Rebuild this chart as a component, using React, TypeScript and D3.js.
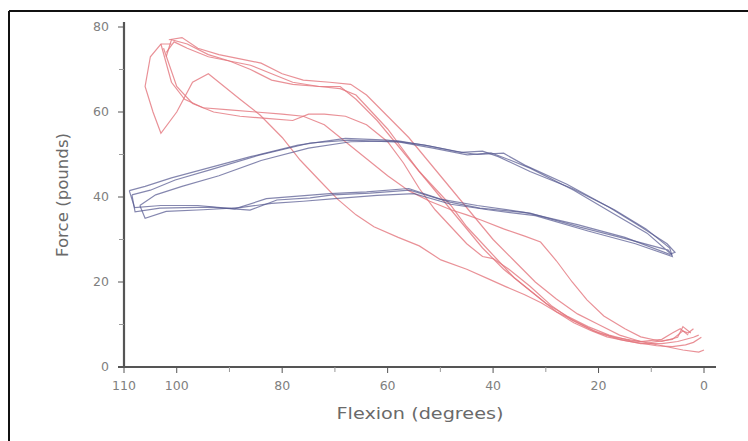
import React from "react";
import * as d3 from "d3";

type P = [number, number];

const xTickLabels = [110, 100, 80, 60, 40, 20, 0];
const xMinorTicks = [90, 70, 50, 30, 10];
const yTickLabels = [0, 20, 40, 60, 80];
const yMinorTicks = [10, 30, 50, 70];

// Blue traces (flexion degrees, force pounds) – closed loops
const blue1: P[] = [
  [108.5, 40.5], [105, 41.6], [100.3, 44], [93.7, 46.4], [84.2, 49.9], [74.7, 52.7], [67.1, 53.4], [57.7, 52.9],
  [51.4, 51.5], [44.9, 49.9], [40.4, 50.4], [36.8, 48.7], [33, 46.8], [24.7, 41.6], [17.3, 36.2], [10.8, 31.5], [6.1, 26.4],
  [6.8, 27.5], [14, 29.9], [23.5, 32.9], [33, 36.2], [42.5, 37.4], [48.2, 38.8], [55.8, 41.6], [63.3, 40.9], [70.4, 40.5],
  [74.7, 39.8], [81, 39.3], [86.1, 36.9], [93.7, 37.6], [103.2, 37.4], [107.9, 36.5], [108.5, 40.5],
];
const blue2: P[] = [
  [107, 38], [104, 40.5], [99, 42.5], [92, 45], [84, 48.6], [75, 51.5], [67, 53], [58, 53.2], [52, 52], [46, 50.5],
  [42, 50.8], [39, 49.5], [33, 46], [25, 42], [17, 37], [11, 32.5], [6.5, 28],
  [6, 26], [13, 29], [22, 32], [32, 35.6], [41, 37], [48, 38.3], [55, 40.8], [62, 40.4], [70, 39.6], [76, 39],
  [82, 38.5], [88, 37.5], [95, 37], [102, 36.6], [106, 35], [107, 38],
];
const blue3: P[] = [
  [109, 41.5], [106, 42.5], [101, 44.5], [95, 46.5], [86, 49.5], [77, 52.2], [68, 53.8], [60, 53.4], [53, 52.2],
  [47, 50.7], [43, 50], [38, 50.3], [34, 47.5], [26, 43], [18, 37.6], [12, 33], [7, 29], [5.5, 27],
  [6.5, 26.5], [15, 30.5], [24, 33.5], [34, 36.4], [43, 38], [50, 39.5], [56, 42], [64, 41.2], [71, 40.8], [77, 40.2],
  [83, 39.6], [89, 37.2], [96, 38], [103, 38], [108, 37.5], [109, 41.5],
];

// Red traces
const redA: P[] = [
  [101.5, 77], [99, 77.5], [96, 75], [92, 73.5], [88, 72.5], [84, 71.5], [80, 69], [76, 67.5], [71, 67], [67, 66.5],
  [64, 64], [60, 59], [56, 54], [52, 48], [48, 42], [44, 36], [40, 30], [36, 25], [32, 20], [28, 16], [24, 12.5],
  [20, 10], [16, 7.5], [12, 6], [8, 5], [4, 4], [1, 3.5], [0, 4],
];
const redB: P[] = [
  [102, 74], [100.5, 76.5], [98, 75], [94, 73], [90, 72], [86, 70], [82, 67.5], [78, 66.5], [73, 66], [69, 66],
  [66, 63], [62, 58], [58, 52], [54, 46], [50, 40], [46, 34], [42, 28], [38, 23], [34, 19], [30, 15], [26, 12],
  [22, 9.5], [18, 7.5], [14, 6.2], [10, 5.8], [6, 6.5], [4, 8.5], [3, 8], [2, 9],
];
const redC: P[] = [
  [101, 76], [103, 76], [105, 73], [106, 66], [104.5, 60], [103, 55], [100, 60], [97, 67], [94, 69], [91, 66],
  [88, 63], [84.2, 59.3], [80, 54], [76.6, 48.7], [73, 44], [69.5, 39.5], [66, 35.8], [62.6, 33], [58, 30.5],
  [54, 28.5], [49.9, 25.2], [45, 23], [41, 20.8], [37.4, 18.8], [34, 17], [30.9, 15.1], [27.5, 12.6], [24.7, 10.4],
  [21.5, 8.6], [18.4, 7.1], [15, 6.2], [12, 5.6], [9, 5], [6, 4.8], [3.5, 5.2], [2, 5.8], [0.5, 7],
];
const redD: P[] = [
  [103, 76], [101, 67], [98.5, 63], [95, 61], [90, 60.5], [85, 60], [80, 59.5], [76, 59], [74, 58], [72, 57],
  [68, 53], [64, 49], [60, 45], [56, 41.5], [52, 39], [48, 37], [45, 35.8], [42.3, 34.6], [38, 32.5], [34, 30.8],
  [31, 29.4], [28, 25], [25, 20], [22.2, 15.8], [19, 12], [15, 9], [12, 7.1], [8, 6], [5, 7], [4, 9.5], [2.5, 8],
];
const redE: P[] = [
  [102.5, 75], [100, 66], [97, 62], [93, 60], [88, 59], [83, 58.5], [78, 58], [75, 59.5], [72, 59.5], [68, 59],
  [64, 57], [60, 53], [57, 48], [54, 42], [51, 37], [48, 33], [45, 29], [42, 26], [40, 25.5], [37, 23], [33, 19],
  [29, 14.5], [25, 11], [21, 8.5], [17, 7], [12, 6], [8, 6.5], [6, 8], [4.5, 9], [3, 7.5],
];
const redF: P[] = [
  [102, 73], [101, 77], [98, 76], [94, 73.5], [90, 72], [86, 71], [82, 69], [78, 67], [73, 66], [69, 65.5],
  [66, 64], [63, 60], [60, 56], [57, 51], [54, 46], [51, 42], [48, 38], [45, 33], [42, 29], [39, 25], [36, 21],
  [32, 17], [28, 13], [24, 10.5], [20, 8], [16, 6.5], [12, 5.5], [8, 5.5], [5, 6], [2, 7], [1, 7.5],
];

const blueTraces = [blue1, blue2, blue3];
const redTraces = [redA, redB, redC, redD, redE, redF];

const W = 748;
const H = 441;

export default function App() {
  const x = d3.scaleLinear().domain([110, 0]).range([124, 704]);
  const y = d3.scaleLinear().domain([0, 80]).range([367, 27]);
  const line = d3
    .line<P>()
    .x((d) => x(d[0]))
    .y((d) => y(d[1]))
    .curve(d3.curveLinear);

  const axisColor = "#555";
  const textColor = "#808080";
  const font = "'DejaVu Sans', sans-serif";

  return (
    <svg
      width={W}
      height={H}
      style={{ position: "absolute", left: 0, top: 0, background: "#fff" }}
    >
      {/* frame */}
      <line x1={9} y1={11} x2={W} y2={11} stroke="#111" strokeWidth={2} />
      <line x1={9} y1={11} x2={9} y2={H} stroke="#111" strokeWidth={2} />

      {/* traces */}
      {redTraces.map((t, i) => (
        <path key={"r" + i} d={line(t) || ""} fill="none" stroke="#e3767d" strokeOpacity={0.8} strokeWidth={1.2} />
      ))}
      {blueTraces.map((t, i) => (
        <path key={"b" + i} d={line(t) || ""} fill="none" stroke="#565990" strokeOpacity={0.72} strokeWidth={1.2} />
      ))}

      {/* y axis */}
      <line x1={124} y1={22} x2={124} y2={368} stroke={axisColor} strokeWidth={2.2} />
      {yTickLabels.map((v) => (
        <g key={"yt" + v}>
          <line x1={118} x2={124} y1={y(v)} y2={y(v)} stroke={axisColor} strokeWidth={1} />
          <text x={109} y={y(v)} dy="0.35em" textAnchor="end" fill={textColor} fontSize={12.5} fontFamily={font}>
            {v}
          </text>
        </g>
      ))}
      {yMinorTicks.map((v) => (
        <line key={"ym" + v} x1={119} x2={124} y1={y(v)} y2={y(v)} stroke="#999" strokeWidth={1} />
      ))}

      {/* x axis */}
      <line x1={118} y1={367} x2={716} y2={367} stroke={axisColor} strokeWidth={2.2} />
      {xTickLabels.map((v) => (
        <g key={"xt" + v}>
          <line x1={x(v)} x2={x(v)} y1={367} y2={373} stroke={axisColor} strokeWidth={1} />
          <text x={x(v)} y={386} dy="0.35em" textAnchor="middle" fill={textColor} fontSize={12.5} fontFamily={font}>
            {v}
          </text>
        </g>
      ))}
      {xMinorTicks.map((v) => (
        <line key={"xm" + v} x1={x(v)} x2={x(v)} y1={367} y2={372} stroke="#999" strokeWidth={1} />
      ))}

      {/* axis titles */}
      <text
        x={420}
        y={413}
        dy="0.35em"
        textAnchor="middle"
        fill="#6a6a6a"
        fontSize={16.5}
        textLength={167}
        lengthAdjust="spacingAndGlyphs"
        fontFamily={font}
      >
        Flexion (degrees)
      </text>
      <text
        transform={`translate(63,195) rotate(-90)`}
        dy="0.35em"
        textAnchor="middle"
        fill="#6a6a6a"
        fontSize={15.5}
        textLength={124}
        lengthAdjust="spacingAndGlyphs"
        fontFamily={font}
      >
        Force (pounds)
      </text>
    </svg>
  );
}
